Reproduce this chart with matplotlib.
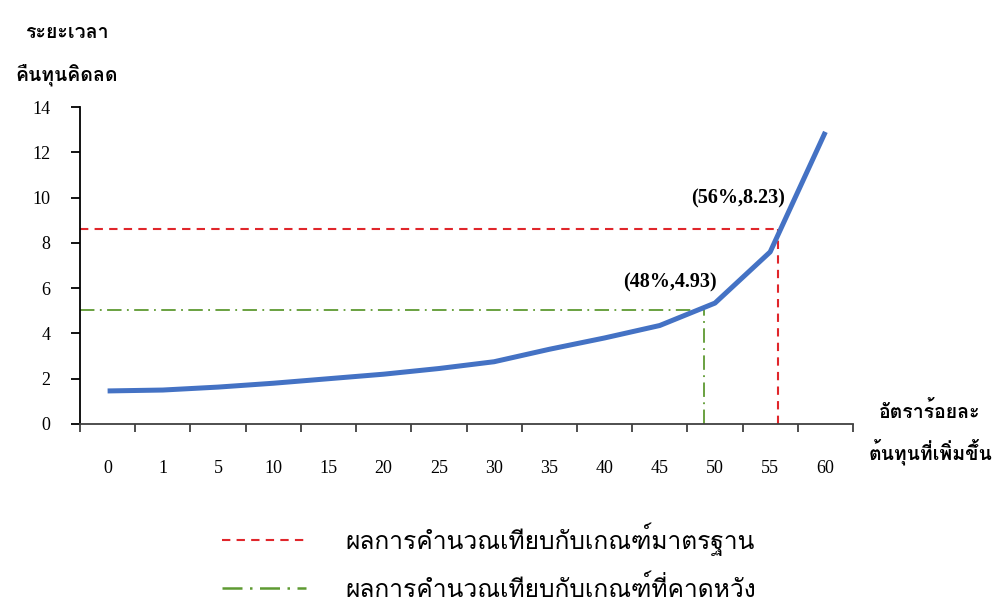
import matplotlib
matplotlib.use("Agg")
import matplotlib.pyplot as plt
import numpy as np

# categories on x (cost increase, %) and payback period values
categories = ["0", "1", "5", "10", "15", "20", "25", "30", "35", "40", "45", "50", "55", "60"]
payback = [1.46, 1.50, 1.63, 1.80, 2.00, 2.20, 2.45, 2.75, 3.30, 3.80, 4.35, 5.34, 7.60, 12.90]

# reference lines: (x position in category units, y value)
std_x, std_y = 12.14, 8.62      # standard criterion
exp_x, exp_y = 10.80, 5.03      # expected criterion

yticks = [0, 2, 4, 6, 8, 10, 12, 14]
std_label = "ผลการคำนวณเทียบกับเกณฑ์มาตรฐาน"
exp_label = "ผลการคำนวณเทียบกับเกณฑ์ที่คาดหวัง"

# Loma keeps stacked tone marks readable without text shaping
thai = ["Loma", "Sarabun", "DejaVu Sans"]
num = ["Liberation Serif", "DejaVu Serif"]

fig = plt.figure(figsize=(9.98, 6.05), dpi=100)
ax = fig.add_axes([80 / 998, 1 - 424 / 605, 773 / 998, 317 / 605])

x = np.arange(len(categories))
ax.plot(x, payback, color="#4472C4", lw=3.6, solid_capstyle="butt", zorder=3)

ax.plot([-0.5, std_x], [std_y, std_y], color="#E0262B", lw=1.5, ls=(0, (4, 3)), zorder=2)
ax.plot([std_x, std_x], [0, std_y], color="#E0262B", lw=1.5, ls=(0, (4, 3)), zorder=2)
ax.plot([-0.5, exp_x], [exp_y, exp_y], color="#5E9A32", lw=1.3, ls=(0, (8, 3, 1, 3)), zorder=2)
ax.plot([exp_x, exp_x], [0, exp_y], color="#5E9A32", lw=1.3, ls=(0, (8, 3, 1, 3)), zorder=2)

ax.text(11.42, 9.98, "(56%,8.23)", ha="center", va="center", fontsize=14.5,
        fontweight="bold", family=num)
ax.text(10.19, 6.23, "(48%,4.93)", ha="center", va="center", fontsize=14.5,
        fontweight="bold", family=num)

ax.set_xlim(-0.5, len(categories) - 0.5)
ax.set_ylim(0, 14)
ax.set_yticks(yticks)
ax.set_yticklabels([str(v) for v in yticks], family=num, fontsize=13)
ax.set_xticks(np.arange(-0.5, len(categories)), minor=False)
ax.set_xticklabels([])
ax.set_xticks(x, minor=True)
ax.set_xticklabels(categories, minor=True, family=num, fontsize=13)
ax.tick_params(axis="x", which="major", direction="out", length=6, width=1.3, color="#404040")
ax.tick_params(axis="x", which="minor", length=0, pad=26)
ax.tick_params(axis="y", direction="out", length=6.5, width=1.3, pad=15)

for s in ["top", "right"]:
    ax.spines[s].set_visible(False)
ax.spines["left"].set_linewidth(1.3)
ax.spines["bottom"].set_linewidth(1.3)
ax.spines["bottom"].set_color("#404040")

fig.text(67 / 998, 1 - 33 / 605, "ระยะเวลา", ha="center", va="center",
         fontsize=14, fontweight="bold", family=thai)
fig.text(67 / 998, 1 - 75 / 605, "คืนทุนคิดลด", ha="center", va="center",
         fontsize=14, fontweight="bold", family=thai)
fig.text(930 / 998, 1 - 412 / 605, "อัตราร้อยละ", ha="center", va="center",
         fontsize=14, fontweight="bold", family=thai)
fig.text(930 / 998, 1 - 452 / 605, "ต้นทุนที่เพิ่มขึ้น", ha="center", va="center",
         fontsize=14, fontweight="bold", family=thai)

# legend drawn below the plot
h1, = ax.plot([], [], color="#E0262B", lw=1.5, ls=(0, (4, 3)))
h2, = ax.plot([], [], color="#5E9A32", lw=1.8, ls=(0, (8, 3, 1, 3)))
fig.legend([h1, h2], [std_label, exp_label], loc="center left",
           bbox_to_anchor=(200 / 998, 1 - 562 / 605), frameon=False,
           handlelength=3.4, handletextpad=1.6, labelspacing=0.8,
           prop={"family": thai, "size": 17.7})

fig.savefig("out.png", dpi=100, facecolor="white")
